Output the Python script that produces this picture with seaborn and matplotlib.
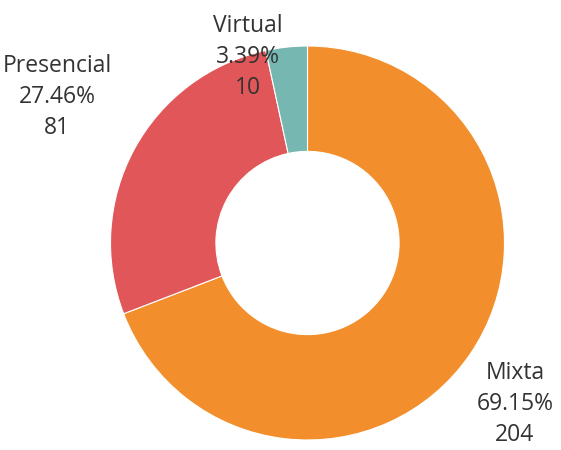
import matplotlib
matplotlib.use("Agg")
import matplotlib.pyplot as plt
import seaborn as sns

# datos
modalidades = ['Mixta', 'Presencial', 'Virtual']
cantidades = [204, 81, 10]
porcentajes = ['69.15%', '27.46%', '3.39%']
colores = ['#F28E2B', '#E15759', '#76B7B2']

sns.set_theme(style="white")
plt.rcParams['font.family'] = ['Open Sans', 'DejaVu Sans']

fig = plt.figure(figsize=(5.61, 4.5), dpi=100)
ax = fig.add_axes([110 / 561, 10 / 450, 395 / 561, 394 / 450])

ax.pie(cantidades, colors=colores, startangle=90, counterclock=False,
       wedgeprops=dict(width=0.535, edgecolor='white', linewidth=0.8))
ax.set_xlim(-1, 1)
ax.set_ylim(-1, 1)
ax.set_aspect('equal')
ax.axis('off')

# etiquetas (posicion en pixeles de la figura)
pos = {'Mixta': (515, 404), 'Presencial': (57, 97), 'Virtual': (248, 57)}
for m, c, p in zip(modalidades, cantidades, porcentajes):
    x, y = pos[m]
    fig.text(x / 561, 1 - y / 450, f"{m}\n{p}\n{c}", ha='center', va='center',
             fontsize=16.5, color='#333333', linespacing=1.4)

fig.savefig('out.png', dpi=100)
